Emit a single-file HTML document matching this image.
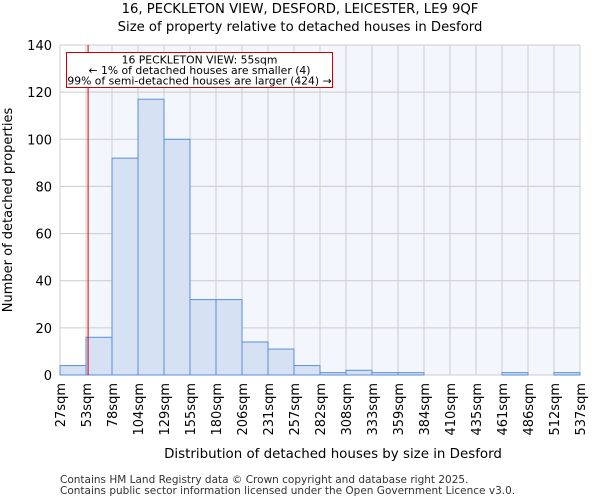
<!DOCTYPE html>
<html><head><meta charset="utf-8"><style>
body{margin:0;background:#fff;font-family:"DejaVu Sans","Liberation Sans",sans-serif}
</style></head><body>
<svg width="600" height="500" xmlns="http://www.w3.org/2000/svg" font-family="DejaVu Sans, Liberation Sans, sans-serif">
<text x="300" y="13" text-anchor="middle" font-size="13.2">16, PECKLETON VIEW, DESFORD, LEICESTER, LE9 9QF</text>
<text x="300" y="31" text-anchor="middle" font-size="13.2">Size of property relative to detached houses in Desford</text>
<g id="plot"></g>
<text x="333" y="458" text-anchor="middle" font-size="13.4">Distribution of detached houses by size in Desford</text>
<text transform="translate(12,210) rotate(-90)" text-anchor="middle" font-size="13">Number of detached properties</text>
<text x="60" y="483" font-size="10.5" fill="#333">Contains HM Land Registry data © Crown copyright and database right 2025.</text>
<text x="60" y="494" font-size="10.5" fill="#333">Contains public sector information licensed under the Open Government Licence v3.0.</text>
</svg>
<script>
const binLabels=["27sqm","53sqm","78sqm","104sqm","129sqm","155sqm","180sqm","206sqm","231sqm","257sqm","282sqm","308sqm","333sqm","359sqm","384sqm","410sqm","435sqm","461sqm","486sqm","512sqm","537sqm"];
const binEdges=[27,53,78,104,129,155,180,206,231,257,282,308,333,359,384,410,435,461,486,512,537];
const counts=[4,16,92,117,100,32,32,14,11,4,1,2,1,1,0,0,0,1,0,1];
const yTicks=[0,20,40,60,80,100,120,140];
const propertySize=55;
const X0=60,X1=580,Y0=375,Y1=45,YMAX=140;
const nb=counts.length,bw=(X1-X0)/nb;
const xi=i=>X0+i*bw;
const xv=v=>{for(let i=0;i<nb;i++){if(v<=binEdges[i+1])return xi(i)+(v-binEdges[i])/(binEdges[i+1]-binEdges[i])*bw;}return X1;};
const y=v=>Y0-(v/YMAX)*(Y0-Y1);
const NS="http://www.w3.org/2000/svg",g=document.getElementById('plot');
function mk(t,a){const e=document.createElementNS(NS,t);for(const k in a)e.setAttribute(k,a[k]);g.appendChild(e);return e;}
const px=xv(propertySize);
let r=mk('rect',{x:px,y:Y1,width:X1-px,height:Y0-Y1,fill:'#f3f6fd'});


for(let i=0;i<=nb;i++){let l=mk('line',{x1:xi(i),x2:xi(i),y1:Y1,y2:Y0,stroke:'#ccc','stroke-width':1});

}
yTicks.forEach(t=>{let l=mk('line',{x1:X0,x2:X1,y1:y(t),y2:y(t),stroke:'#ccc','stroke-width':1});


let tx=mk('text',{x:X0-8,y:y(t)+5,'text-anchor':'end','font-size':13});tx.textContent=t;

});
counts.forEach((c,i)=>{if(c<=0)return;let b=mk('rect',{x:xi(i),y:y(c),width:bw,height:Y0-y(c),fill:'#d6e1f3',stroke:'#5b8fd6','stroke-width':1});

});
binLabels.forEach((s,i)=>{let t=mk('text',{transform:`translate(${xi(i)+5},${Y0+8}) rotate(-90)`,'text-anchor':'end','font-size':13});t.textContent=s;

});
let pl=mk('line',{x1:px,x2:px,y1:Y1,y2:Y0,stroke:'#c00','stroke-width':1});


let bx=mk('rect',{x:66.5,y:52.5,width:266,height:35,fill:'#fff',stroke:'#c00','stroke-width':1});


["16 PECKLETON VIEW: 55sqm","← 1% of detached houses are smaller (4)","99% of semi-detached houses are larger (424) →"].forEach((s,i)=>{let t=mk('text',{x:199.5,y:63.5+i*10.5,'text-anchor':'middle','font-size':10.8});t.textContent=s;

});
</script>
</body></html>
